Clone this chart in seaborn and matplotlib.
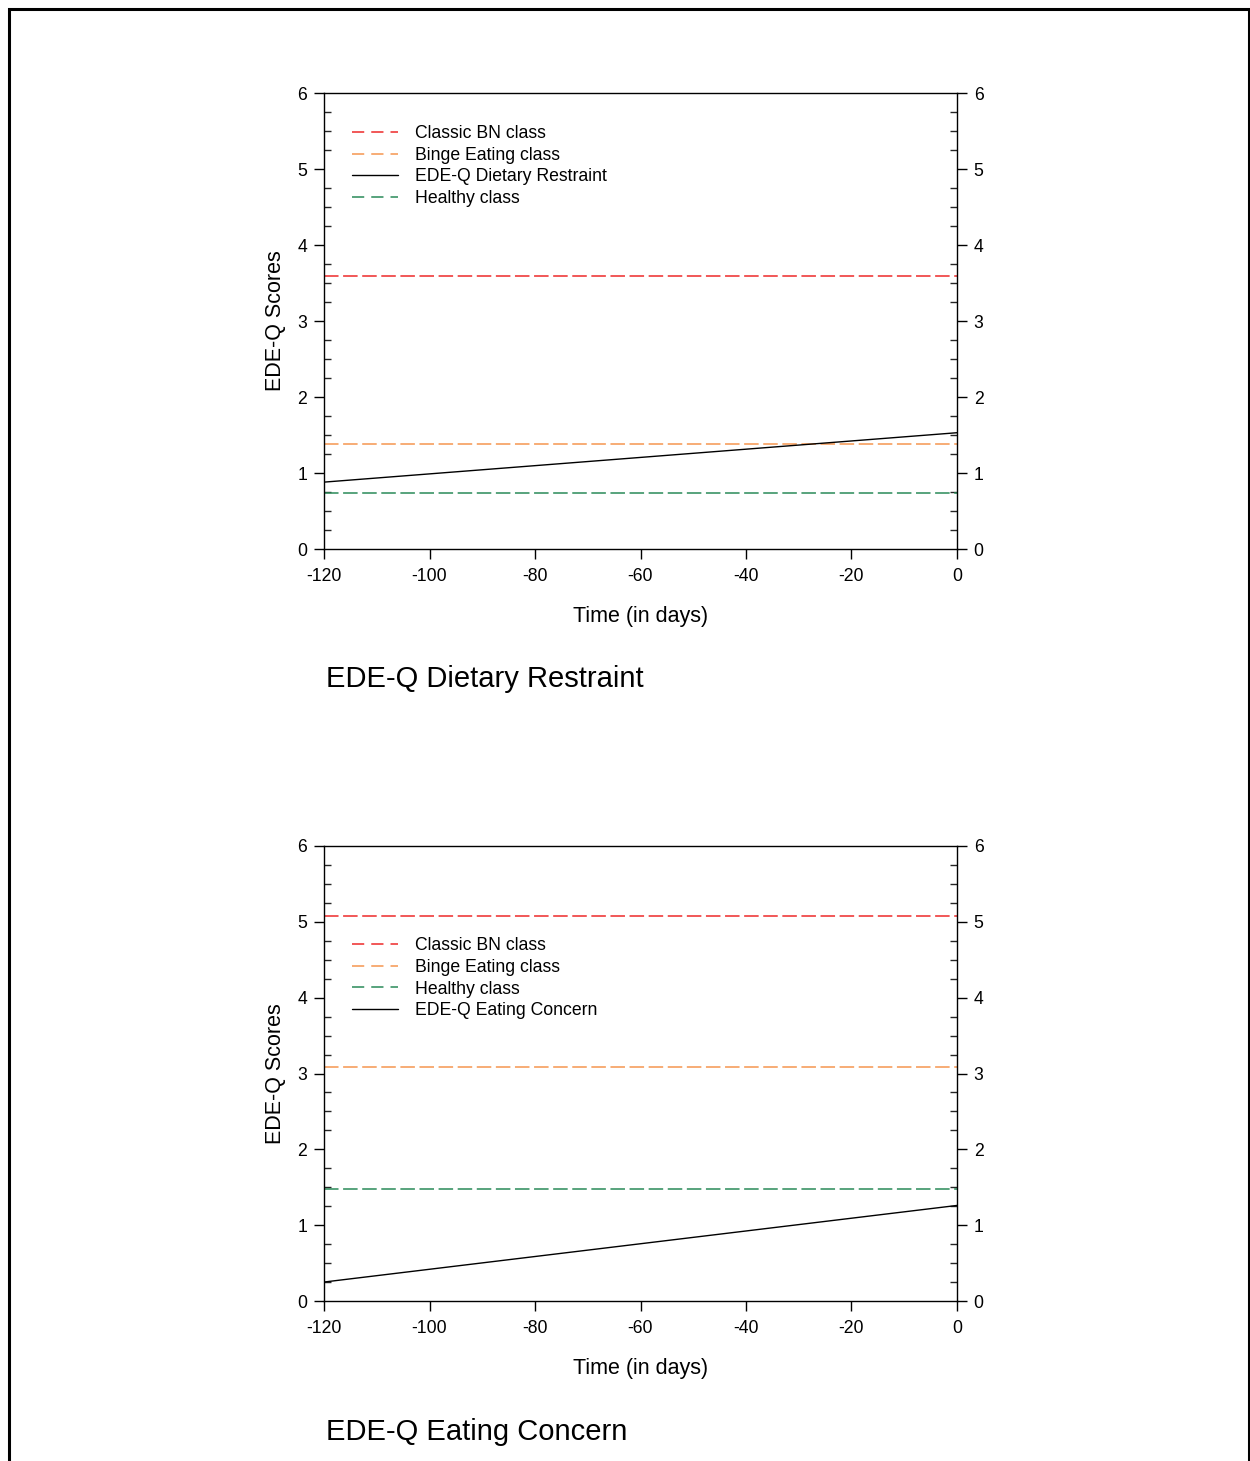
import matplotlib
matplotlib.use("Agg")
import matplotlib.pyplot as plt
import seaborn as sns
import pandas as pd
from matplotlib.patches import Rectangle
from matplotlib.ticker import MultipleLocator

sns.set_theme(style="ticks")
plt.rcParams['font.family'] = ['Liberation Sans', 'DejaVu Sans']

# ---------------- data ----------------
time_ends = [-120, 0]

# Panel 1: EDE-Q Dietary Restraint
p1_title = "EDE-Q Dietary Restraint"
p1_labels = ["Classic BN class", "Binge Eating class", "EDE-Q Dietary Restraint", "Healthy class"]
p1_values = [[3.59, 3.59], [1.38, 1.38], [0.88, 1.53], [0.74, 0.74]]
p1_kinds = ["red", "orange", "black", "green"]

# Panel 2: EDE-Q Eating Concern
p2_title = "EDE-Q Eating Concern"
p2_labels = ["Classic BN class", "Binge Eating class", "Healthy class", "EDE-Q Eating Concern"]
p2_values = [[5.08, 5.08], [3.09, 3.09], [1.48, 1.48], [0.25, 1.26]]
p2_kinds = ["red", "orange", "green", "black"]

x_ticks = [-120, -100, -80, -60, -40, -20, 0]
y_ticks = [0, 1, 2, 3, 4, 5, 6]
x_label = "Time (in days)"
y_label = "EDE-Q Scores"

colors = {"red": "#ee2a2a", "orange": "#f5964f", "green": "#2a8a58", "black": "#000000"}

W, H = 1250, 1461
fig = plt.figure(figsize=(W / 100, H / 100), dpi=100)

def px_axes(left, top, right, bottom):
    return fig.add_axes([left / W, 1 - bottom / H, (right - left) / W, (bottom - top) / H])

def draw_panel(ax, labels, values, kinds, legend_y, title, title_y):
    for lab, vals, kind in zip(labels, values, kinds):
        df = pd.DataFrame({"t": time_ends, "v": vals})
        sns.lineplot(data=df, x="t", y="v", ax=ax, color=colors[kind], label=lab,
                     linewidth=1.0 if kind == "black" else 1.1)
        line = ax.lines[-1]
        if kind != "black":
            line.set_dashes([9.5, 3])
    ax.set_xlim(-120, 0)
    ax.set_ylim(0, 6)
    ax.set_xticks(x_ticks)
    ax.set_xticklabels([str(v) for v in x_ticks])
    ax.set_yticks(y_ticks)
    ax.set_yticklabels([str(v) for v in y_ticks])
    ax.yaxis.set_minor_locator(MultipleLocator(0.25))
    ax.tick_params(axis="both", which="major", direction="out", length=7, width=1.0,
                   labelsize=12.7, colors="black", pad=5)
    ax.tick_params(axis="x", which="major", pad=7)
    ax.tick_params(axis="y", which="major", left=True, right=True, labelleft=True, labelright=True)
    ax.tick_params(axis="y", which="minor", direction="in", length=5, width=1.0,
                   left=True, right=True)
    ax.tick_params(axis="x", which="major", bottom=True, top=False)
    for s in ax.spines.values():
        s.set_visible(True)
        s.set_linewidth(1.0)
        s.set_color("black")
    ax.set_facecolor("white")
    ax.set_xlabel(x_label, fontsize=15.5, labelpad=15, color="black")
    ax.set_ylabel(y_label, fontsize=15.5, labelpad=8, color="black")
    leg = ax.legend(loc="upper left", bbox_to_anchor=(0.044, legend_y), frameon=False,
                    fontsize=12.7, handlelength=2.6, handletextpad=1.0, labelspacing=0.27,
                    borderaxespad=0, borderpad=0)
    for t in leg.get_texts():
        t.set_color("black")
    for h in leg.get_lines():
        if h.get_linestyle() not in ("-", "solid"):
            h.set_dashes([8, 4.6])
    fig.text(326 / W, 1 - title_y / H, title, fontsize=21, ha="left", va="center", color="black")

ax1 = px_axes(324, 93, 957, 549)
draw_panel(ax1, p1_labels, p1_values, p1_kinds, 0.930, p1_title, 679)

ax2 = px_axes(324, 846, 957, 1301)
draw_panel(ax2, p2_labels, p2_values, p2_kinds, 0.800, p2_title, 1432)

frame = Rectangle((8.5 / W, -0.02), (1248.5 - 8.5) / W, 1.02 - 8.5 / H,
                  transform=fig.transFigure, fill=False, edgecolor="black",
                  linewidth=2.2, clip_on=False)
fig.add_artist(frame)

fig.savefig("out.png", dpi=100, facecolor="white")
